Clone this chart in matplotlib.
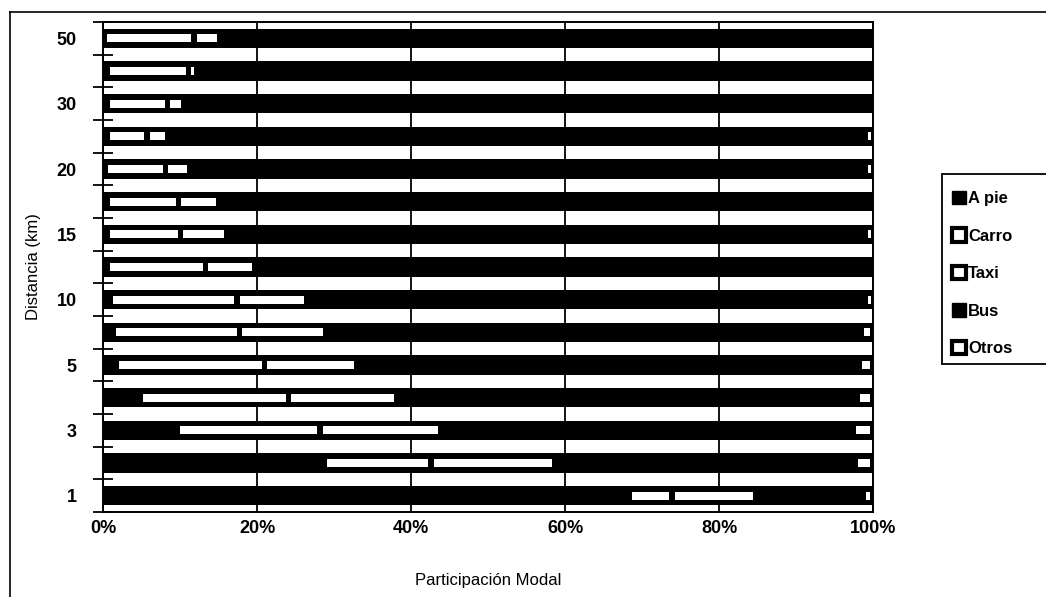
import matplotlib
matplotlib.use("Agg")
import matplotlib.pyplot as plt
from matplotlib.patches import Patch, Rectangle
from matplotlib.lines import Line2D
import numpy as np

plt.rcParams['font.family'] = ['Liberation Sans', 'DejaVu Sans']

# Categories (distance, km), bottom to top
categories = ['1', '2', '3', '4', '5', '7.5', '10', '12.5', '15', '17.5', '20', '25', '30', '40', '50']
tick_labels = ['1', '', '3', '', '5', '', '10', '', '15', '', '20', '', '30', '', '50']
series = ['A pie', 'Carro', 'Taxi', 'Bus', 'Otros']

# Shares (%)
a_pie = [68.3, 28.8, 9.6, 4.9, 1.7, 1.3, 1.0, 0.6, 0.6, 0.6, 0.3, 0.6, 0.6, 0.6, 0.2]
carro = [5.6, 13.8, 18.6, 19.2, 19.3, 16.4, 16.4, 12.7, 9.5, 9.2, 7.8, 5.1, 7.8, 10.5, 11.6]
taxi = [10.9, 16.0, 15.6, 14.0, 11.9, 11.2, 9.0, 6.4, 6.0, 5.2, 3.2, 2.7, 2.1, 1.0, 3.4]
otros = [1.2, 2.3, 2.5, 2.0, 1.8, 1.5, 1.0, 0.0, 1.0, 0.0, 1.0, 1.0, 0.0, 0.0, 0.0]
bus = [100 - a - c - t - o for a, c, t, o in zip(a_pie, carro, taxi, otros)]

W, H = 1046, 597
fig = plt.figure(figsize=(W / 100, H / 100), dpi=100)
ax = fig.add_axes([103 / W, (H - 512) / H, 770 / W, 490 / H])

y = np.arange(len(categories))
bar_h = 0.6
strip_h = 0.25
inset = 0.35

vals = [a_pie, carro, taxi, bus, otros]
filled = [True, False, False, True, False]
left = np.zeros(len(categories))
for v, f in zip(vals, filled):
    v = np.array(v, dtype=float)
    ax.barh(y, v, left=left, height=bar_h, color='black', edgecolor='none', zorder=2)
    if not f:
        mask = v > 0
        wv = np.maximum(v - 2 * inset, 0.35)
        ax.barh(y[mask], wv[mask], left=left[mask] + inset, height=strip_h,
                color='white', edgecolor='none', zorder=3)
    left = left + v

ax.set_xlim(0, 100)
ax.set_ylim(-0.5, len(categories) - 0.5)

ax.set_xticks([0, 20, 40, 60, 80, 100])
ax.set_xticklabels(['0%', '20%', '40%', '60%', '80%', '100%'], fontsize=13, fontweight='bold')
ax.tick_params(axis='x', length=0, pad=6)
ax.xaxis.grid(True, color='black', linewidth=1.3, zorder=0)
ax.set_axisbelow(True)

ax.set_yticks(np.arange(-0.5, len(categories), 1.0))
ax.set_yticklabels([])
ax.tick_params(axis='y', which='major', direction='inout', length=14, width=1.3)
ax.set_yticks(y, minor=True)
ax.set_yticklabels(tick_labels, minor=True, fontsize=13, fontweight='bold')
ax.tick_params(axis='y', which='minor', length=0, pad=19)

for s in ax.spines.values():
    s.set_linewidth(1.4)
    s.set_color('black')

ax.set_xlabel('Participación Modal', fontsize=12, labelpad=26)
ax.set_ylabel('Distancia (km)', fontsize=12, labelpad=11)

# outer frame
fig.add_artist(Line2D([10 / W, 10 / W], [0, 1 - 12 / H], transform=fig.transFigure, color='black', lw=1.2))
fig.add_artist(Line2D([10 / W, 1], [1 - 12 / H, 1 - 12 / H], transform=fig.transFigure, color='black', lw=1.2))

# legend box
fig.add_artist(Rectangle((942 / W, 1 - 364 / H), 120 / W, 190 / H, transform=fig.transFigure,
                         facecolor='white', edgecolor='black', lw=1.3, clip_on=False))
handles = []
for name, f in zip(series, filled):
    if f:
        handles.append(Patch(facecolor='black', edgecolor='black', label=name))
    else:
        handles.append(Patch(facecolor='white', edgecolor='black', linewidth=3, label=name))
fig.legend(handles=handles, loc='upper left', bbox_to_anchor=(940 / W, 1 - 179 / H),
           frameon=False, handlelength=0.85, handleheight=0.85,
           handletextpad=0.15, labelspacing=1.33, borderpad=0.2,
           prop={'weight': 'bold', 'size': 12})

fig.savefig('out.png', dpi=100)
